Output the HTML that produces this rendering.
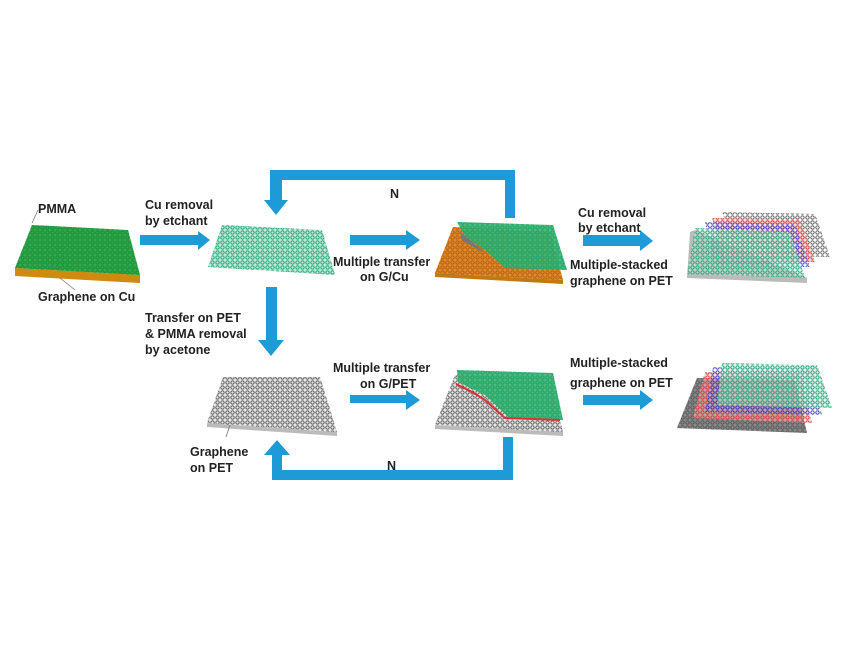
<!DOCTYPE html>
<html><head><meta charset="utf-8"><style>
html,body{margin:0;padding:0;background:#fff;}
svg{display:block;}
text{font-family:"Liberation Sans",Arial,sans-serif;font-weight:bold;font-size:12.5px;fill:#222;}
</style></head><body>
<svg width="850" height="650" viewBox="0 0 850 650" xmlns="http://www.w3.org/2000/svg">
<defs>
<pattern id="hg" width="5" height="5" patternUnits="userSpaceOnUse"><circle cx="2.5" cy="2.5" r="1.7" fill="none" stroke="#1a8a3a" stroke-width="0.9"/></pattern>
<pattern id="ht" width="5" height="5" patternUnits="userSpaceOnUse"><circle cx="2.5" cy="2.5" r="1.7" fill="none" stroke="#1aa070" stroke-width="0.9"/></pattern>
<pattern id="hk" width="5" height="5" patternUnits="userSpaceOnUse"><circle cx="2.5" cy="2.5" r="1.7" fill="none" stroke="#555" stroke-width="0.9"/></pattern>
<pattern id="ho" width="5" height="5" patternUnits="userSpaceOnUse"><circle cx="2.5" cy="2.5" r="1.7" fill="none" stroke="#b05a10" stroke-width="0.9"/></pattern>
<pattern id="hr" width="5" height="5" patternUnits="userSpaceOnUse"><circle cx="2.5" cy="2.5" r="1.7" fill="none" stroke="#e03030" stroke-width="0.9"/></pattern>
<pattern id="hb" width="5" height="5" patternUnits="userSpaceOnUse"><circle cx="2.5" cy="2.5" r="1.7" fill="none" stroke="#3030c0" stroke-width="0.9"/></pattern>
</defs>
<g fill="#1e9ad6">
<!-- arrows top row -->
<polygon points="140,235 198,235 198,231 210,240 198,250 198,245 140,245"/>
<polygon points="350,235 406,235 406,230 420,240 406,250 406,245 350,245"/>
<polygon points="583,235 640,235 640,230 653,241 640,251 640,246 583,246"/>
<!-- top loop -->
<polygon points="505,218 515,218 515,170 270,170 270,200 264,200 276,215 288,200 282,200 282,180 505,180"/>
<!-- down arrow -->
<polygon points="266,287 277,287 277,340 284,340 271,356 258,340 266,340"/>
<!-- bottom row arrows -->
<polygon points="350,395 406,395 406,390 420,400 406,410 406,403 350,403"/>
<polygon points="583,395 640,395 640,390 653,400 640,410 640,405 583,405"/>
<!-- bottom loop -->
<polygon points="503,437 513,437 513,480 272,480 272,455 264,455 277,440 290,455 282,455 282,470 503,470"/>
</g>
<!-- sheet 1 -->
<polygon points="15,268 140,275 140,283 15,276" fill="#d08a10"/>
<polygon points="32,225 128,230 140,275 15,268" fill="#2eaa4a"/>
<polygon points="32,225 128,230 140,275 15,268" fill="url(#hg)"/>
<line x1="38" y1="210" x2="32" y2="223" stroke="#777" stroke-width="0.8"/>
<line x1="60" y1="278" x2="75" y2="290" stroke="#777" stroke-width="0.8"/>
<text x="38" y="213">PMMA</text>
<text x="38" y="301">Graphene on Cu</text>
<text x="145" y="209">Cu removal</text>
<text x="145" y="225">by etchant</text>
<!-- sheet 2 -->
<polygon points="222,225 322,230 335,275 208,267" fill="#bfe9d6"/>
<polygon points="222,225 322,230 335,275 208,267" fill="url(#ht)"/>
<text x="390" y="198" font-size="14">N</text>
<text x="333" y="266">Multiple transfer</text>
<text x="360" y="281">on G/Cu</text>
<!-- sheet 3 -->
<polygon points="435,273 563,280 563,284 435,277" fill="#c07a10"/>
<polygon points="453,227 550,232 563,280 435,273" fill="#e0892a"/>
<polygon points="453,227 550,232 563,280 435,273" fill="url(#ho)"/>
<polygon points="457,222 553,225 567,270 505,268 485,250 465,236" fill="#3bb56a" opacity="0.9"/>
<polygon points="457,222 553,225 567,270 505,268 485,250 465,236" fill="url(#ht)"/>
<polygon points="460,232 470,240 484,252 478,250 462,240" fill="#777"/>
<text x="578" y="217">Cu removal</text>
<text x="578" y="232">by etchant</text>
<text x="570" y="269">Multiple-stacked</text>
<text x="570" y="285">graphene on PET</text>
<!-- sheet 4 stacked -->
<polygon points="695,230 807,278 807,283 687,278 690,232" fill="#bbb"/>
<polygon points="722,212 815,214 830,257 740,255" fill="url(#hk)"/>
<polygon points="712,218 800,220 815,262 725,260" fill="#f6c8c8" opacity="0.6"/>
<polygon points="712,218 800,220 815,262 725,260" fill="url(#hr)"/>
<polygon points="705,222 795,224 810,267 715,265" fill="url(#hb)"/>
<polygon points="695,228 790,232 805,278 687,274" fill="#c9e7dc" opacity="0.5"/>
<polygon points="695,228 790,232 805,278 687,274" fill="url(#ht)"/>
<!-- sheet 5 -->
<polygon points="207,423 337,432 337,436 207,427" fill="#bbb"/>
<polygon points="223,377 320,377 337,432 207,423" fill="#e6e6e6"/>
<polygon points="223,377 320,377 337,432 207,423" fill="url(#hk)"/>
<line x1="230" y1="425" x2="226" y2="437" stroke="#777" stroke-width="0.8"/>
<text x="190" y="456">Graphene</text>
<text x="190" y="472">on PET</text>
<text x="145" y="322">Transfer on PET</text>
<text x="145" y="338">&amp; PMMA removal</text>
<text x="145" y="354">by acetone</text>
<text x="333" y="372">Multiple transfer</text>
<text x="360" y="388">on G/PET</text>
<text x="387" y="470" font-size="14">N</text>
<!-- sheet 6 -->
<polygon points="435,425 563,432 563,436 435,429" fill="#bbb"/>
<polygon points="455,375 550,378 563,432 435,425" fill="#e6e6e6"/>
<polygon points="455,375 550,378 563,432 435,425" fill="url(#hk)"/>
<polygon points="457,370 553,373 563,420 510,419 485,395 458,382" fill="#3bb56a" opacity="0.9"/>
<polygon points="457,370 553,373 563,420 510,419 485,395 458,382" fill="url(#ht)"/>
<polyline points="456,384 472,392 485,400 505,418 560,420" fill="none" stroke="#e03030" stroke-width="2"/>
<text x="570" y="367">Multiple-stacked</text>
<text x="570" y="387">graphene on PET</text>
<!-- sheet 7 -->
<polygon points="697,378 795,380 807,433 677,428" fill="#888"/>
<polygon points="697,378 795,380 807,433 677,428" fill="url(#hk)"/>
<polygon points="705,372 800,374 812,423 693,418" fill="#f2c2c2" opacity="0.5"/>
<polygon points="705,372 800,374 812,423 693,418" fill="url(#hr)"/>
<polygon points="713,367 808,369 822,415 705,412" fill="url(#hb)"/>
<polygon points="722,363 817,365 832,408 717,405" fill="#c9e7dc" opacity="0.5"/>
<polygon points="722,363 817,365 832,408 717,405" fill="url(#ht)"/>
</svg>
</body></html>
